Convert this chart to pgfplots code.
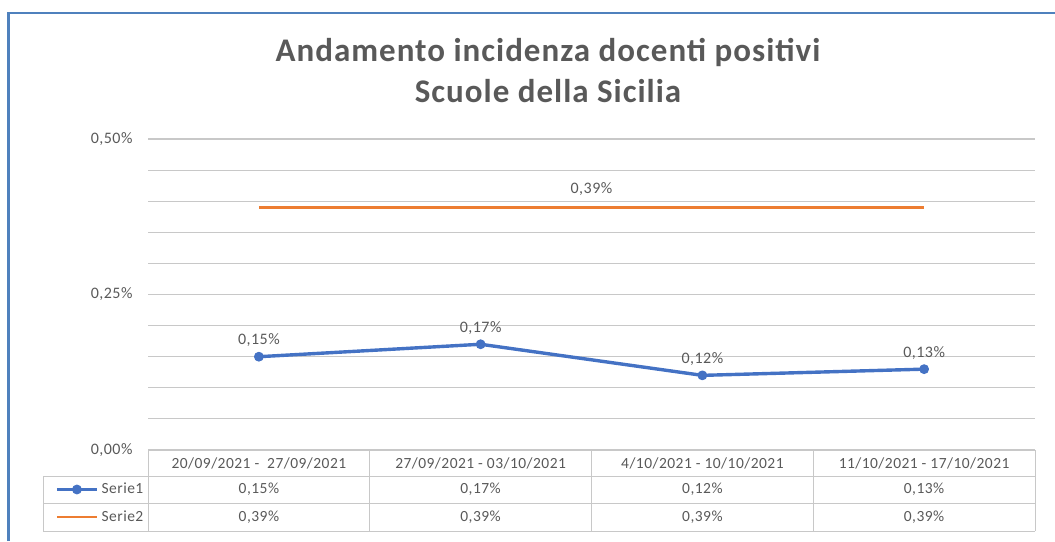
\documentclass[border=0pt]{standalone}
\usepackage{pgfplots}
\pgfplotsset{compat=1.18}
\usepackage{fontspec}
\setmainfont[LetterSpace=3]{Carlito}
\definecolor{serieblue}{RGB}{68,114,196}
\definecolor{serieorange}{RGB}{237,125,49}
\definecolor{txtgray}{RGB}{89,89,89}
\definecolor{gridgray}{RGB}{200,200,200}
\definecolor{frameblue}{RGB}{79,129,189}
\newcommand{\lblfont}{\fontsize{16}{19}\selectfont}
\newcommand{\tabfont}{\fontsize{15.5}{18}\selectfont}

\begin{document}
\begin{tikzpicture}[x=1pt,y=1pt]
  \path[use as bounding box] (0,0) rectangle (1055,-541);
  % chart frame (cut at right and bottom)
  \draw[frameblue, line width=2.5pt] (8.5,-541) -- (8.5,-13) -- (1055,-13);

  % title
  \node[anchor=base, font=\bfseries\fontsize{33}{38}\selectfont, text=txtgray]
    at (548,-61) {Andamento incidenza docenti positivi};
  \node[anchor=base, font=\bfseries\fontsize{33}{38}\selectfont, text=txtgray]
    at (548,-102) {Scuole della Sicilia};

  \begin{axis}[
      at={(148pt,-450pt)}, anchor=south west,
      width=887pt, height=311pt, scale only axis,
      xmin=-0.5, xmax=3.5, ymin=0, ymax=0.5,
      xtick=\empty,
      ytick={0,0.25,0.5},
      yticklabels={{0,00\%},{0,25\%},{0,50\%}},
      minor ytick={0.05,0.1,0.15,0.2,0.3,0.35,0.4,0.45},
      ymajorgrids, yminorgrids,
      major grid style={draw=gridgray, line width=1.1pt},
      minor grid style={draw=gridgray, line width=1.1pt},
      axis line style={draw=none},
      major tick length=0pt, minor tick length=0pt,
      yticklabel style={font=\lblfont, text=txtgray, xshift=-12pt},
      clip=false,
      /pgf/number format/assume math mode=true,
      legend image code/.code={\draw[mark repeat=2,mark phase=2,#1]
        plot coordinates {(0pt,0pt) (20pt,0pt) (40pt,0pt)};},
      legend style={at={(-0.1048,-0.1712)}, anchor=west, draw=none, fill=none,
        inner sep=0pt, font=\tabfont, text=txtgray, row sep=13.5pt,
        column sep=3pt,
        nodes={inner sep=0pt, text height=11pt, text depth=3pt}},
      legend cell align=left,
    ]
    % Serie1
    \addplot[draw=serieblue, line width=3.4pt, line join=round,
             mark=*, mark size=4.4pt,
             mark options={solid, draw=serieblue, fill=serieblue, line width=1pt},
             point meta=y,
             nodes near coords={\pgfmathprintnumber[fixed,fixed zerofill,
               precision=2,use comma]{\pgfplotspointmeta}\%},
             every node near coord/.append style={font=\lblfont, text=txtgray,
               yshift=6pt}]
      coordinates {(0,0.15) (1,0.17) (2,0.12) (3,0.13)};
    \addlegendentry{Serie1}
    % Serie2
    \addplot[draw=serieorange, line width=2.2pt, no marks]
      coordinates {(0,0.39) (1,0.39) (2,0.39) (3,0.39)};
    \addlegendentry{Serie2}
    \node[above, font=\lblfont, text=txtgray, yshift=8pt]
      at (axis cs:1.5,0.39) {0,39\%};
  \end{axis}

  % data table
  \begin{scope}[gridgray, line width=1pt]
    \draw (148,-450) -- (1035,-450);
    \draw (43,-476) -- (1035,-476);
    \draw (43,-503) -- (1035,-503);
    \draw (43,-531) -- (1035,-531);
    \draw (43,-476) -- (43,-531);
    \foreach \x in {148,369.75,591.5,813.25,1035}
      \draw (\x,-450) -- (\x,-531);
  \end{scope}
  \begin{scope}[every node/.style={font=\tabfont, text=txtgray}]
    \node at (258.9,-463) {20/09/2021 -\ \ 27/09/2021};
    \node at (480.6,-463) {27/09/2021 - 03/10/2021};
    \node at (702.4,-463) {4/10/2021 - 10/10/2021};
    \node at (924.1,-463) {11/10/2021 - 17/10/2021};
    \node at (258.9,-489.5) {0,15\%};
    \node at (480.6,-489.5) {0,17\%};
    \node at (702.4,-489.5) {0,12\%};
    \node at (924.1,-489.5) {0,13\%};
    \node at (258.9,-517) {0,39\%};
    \node at (480.6,-517) {0,39\%};
    \node at (702.4,-517) {0,39\%};
    \node at (924.1,-517) {0,39\%};
  \end{scope}
\end{tikzpicture}
\end{document}
